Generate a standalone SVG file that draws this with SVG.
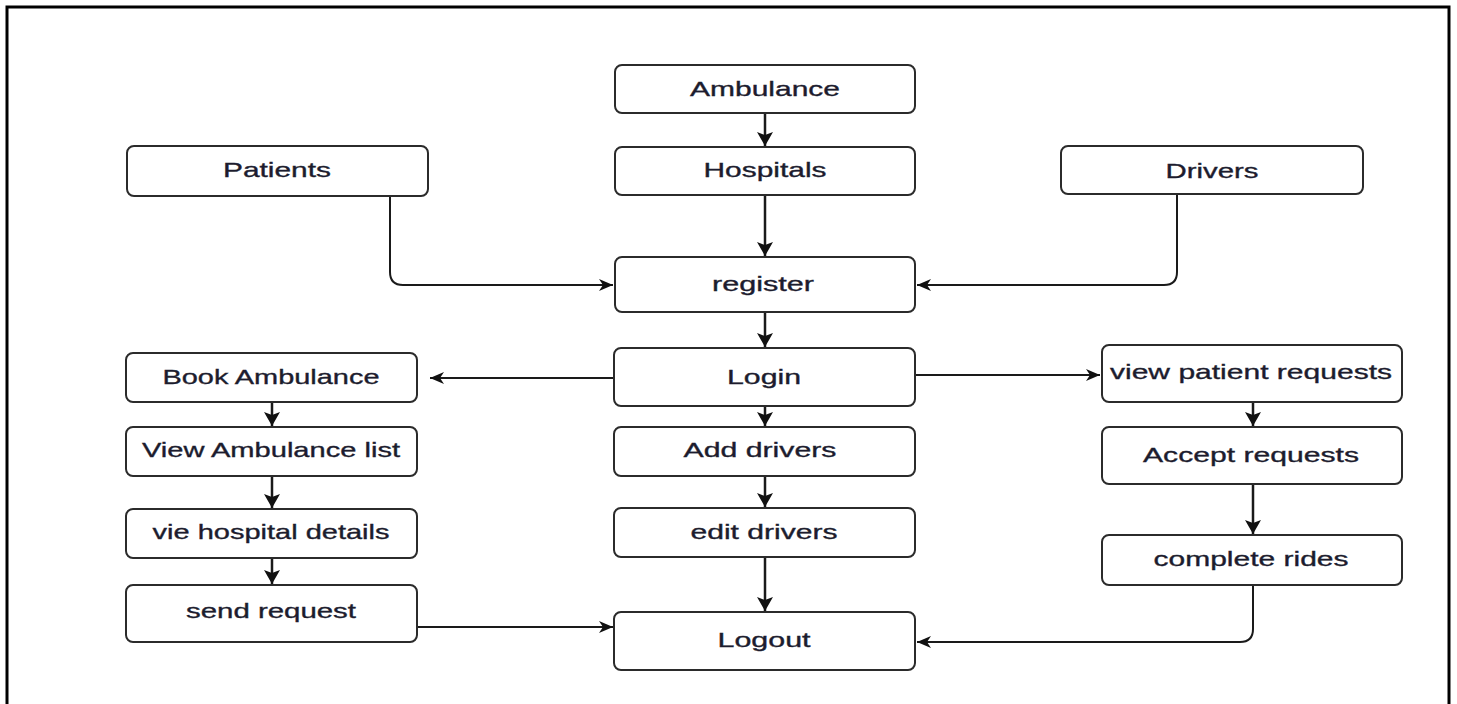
<svg xmlns="http://www.w3.org/2000/svg" width="1457" height="704" viewBox="0 0 1457 704">
<style>
.box{fill:#fff;stroke:#2b2b2b;stroke-width:2}
.t{font-family:"Liberation Sans",Arial,sans-serif;font-size:21px;fill:#1c1c2e;stroke:#1c1c2e;stroke-width:0.35;text-anchor:middle}
.c{fill:none;stroke:#1a1a1a;stroke-width:2}
.v{fill:none;stroke:#1a1a1a;stroke-width:2.5}
</style>
<defs>
<marker id="ah" viewBox="0 0 14 12" refX="14" refY="6" markerWidth="14" markerHeight="12" markerUnits="userSpaceOnUse" orient="auto">
<path d="M0,0 L14,6 L0,12 L4,6 Z" fill="#111"/>
</marker>
<marker id="av" viewBox="0 0 14 16" refX="14" refY="8" markerWidth="14" markerHeight="16" markerUnits="userSpaceOnUse" orient="auto">
<path d="M0,0 L14,8 L0,16 L3,8 Z" fill="#111"/>
</marker>
</defs>
<rect x="7" y="7" width="1442" height="705" fill="none" stroke="#000" stroke-width="3"/>
<g id="connectors">
<path class="v" d="M765,113 V146" marker-end="url(#av)"/>
<path class="v" d="M765,195 V256" marker-end="url(#av)"/>
<path class="c" d="M390,196 V272 Q390,285 403,285 H613" marker-end="url(#ah)"/>
<path class="c" d="M1177,194 V272 Q1177,285 1164,285 H917" marker-end="url(#ah)"/>
<path class="v" d="M765,312 V347" marker-end="url(#av)"/>
<path class="c" d="M614,378 H430" marker-end="url(#ah)"/>
<path class="c" d="M915,375 H1100" marker-end="url(#ah)"/>
<path class="v" d="M765,406 V426" marker-end="url(#av)"/>
<path class="v" d="M765,476 V507" marker-end="url(#av)"/>
<path class="v" d="M765,557 V611" marker-end="url(#av)"/>
<path class="v" d="M272,402 V426" marker-end="url(#av)"/>
<path class="v" d="M272,476 V508" marker-end="url(#av)"/>
<path class="v" d="M272,558 V584" marker-end="url(#av)"/>
<path class="c" d="M418,627 H613" marker-end="url(#ah)"/>
<path class="v" d="M1253,402 V426" marker-end="url(#av)"/>
<path class="v" d="M1253,484 V534" marker-end="url(#av)"/>
<path class="c" d="M1253,585 V629 Q1253,642 1240,642 H917" marker-end="url(#ah)"/>
</g>
<g id="n-ambulance"><rect class="box" x="615" y="65" width="300" height="48" rx="7"/><text class="t" x="765" y="96" textLength="150" lengthAdjust="spacingAndGlyphs">Ambulance</text></g>
<g id="n-hospitals"><rect class="box" x="615" y="147" width="300" height="48" rx="7"/><text class="t" x="765" y="177" textLength="123" lengthAdjust="spacingAndGlyphs">Hospitals</text></g>
<g id="n-patients"><rect class="box" x="127" y="146" width="301" height="50" rx="7"/><text class="t" x="277" y="177" textLength="108" lengthAdjust="spacingAndGlyphs">Patients</text></g>
<g id="n-drivers"><rect class="box" x="1061" y="146" width="302" height="48" rx="7"/><text class="t" x="1212" y="178" textLength="93" lengthAdjust="spacingAndGlyphs">Drivers</text></g>
<g id="n-register"><rect class="box" x="615" y="257" width="300" height="55" rx="7"/><text class="t" x="763" y="291" textLength="102" lengthAdjust="spacingAndGlyphs">register</text></g>
<g id="n-login"><rect class="box" x="614" y="348" width="301" height="58" rx="7"/><text class="t" x="764" y="384" textLength="74" lengthAdjust="spacingAndGlyphs">Login</text></g>
<g id="n-book"><rect class="box" x="126" y="353" width="291" height="49" rx="7"/><text class="t" x="271" y="384" textLength="217" lengthAdjust="spacingAndGlyphs">Book Ambulance</text></g>
<g id="n-viewlist"><rect class="box" x="126" y="427" width="291" height="49" rx="7"/><text class="t" x="271" y="457" textLength="258" lengthAdjust="spacingAndGlyphs">View Ambulance list</text></g>
<g id="n-hospdetails"><rect class="box" x="126" y="509" width="291" height="49" rx="7"/><text class="t" x="271" y="539" textLength="237" lengthAdjust="spacingAndGlyphs">vie hospital details</text></g>
<g id="n-send"><rect class="box" x="126" y="585" width="291" height="57" rx="7"/><text class="t" x="271" y="618" textLength="170" lengthAdjust="spacingAndGlyphs">send request</text></g>
<g id="n-adddrivers"><rect class="box" x="614" y="427" width="301" height="49" rx="7"/><text class="t" x="760" y="457" textLength="153" lengthAdjust="spacingAndGlyphs">Add drivers</text></g>
<g id="n-editdrivers"><rect class="box" x="614" y="508" width="301" height="49" rx="7"/><text class="t" x="764" y="539" textLength="147" lengthAdjust="spacingAndGlyphs">edit drivers</text></g>
<g id="n-logout"><rect class="box" x="614" y="612" width="301" height="58" rx="7"/><text class="t" x="764" y="647" textLength="93" lengthAdjust="spacingAndGlyphs">Logout</text></g>
<g id="n-viewpatient"><rect class="box" x="1102" y="345" width="300" height="57" rx="7"/><text class="t" x="1251" y="379" textLength="282" lengthAdjust="spacingAndGlyphs">view patient requests</text></g>
<g id="n-accept"><rect class="box" x="1102" y="427" width="300" height="57" rx="7"/><text class="t" x="1251" y="462" textLength="216" lengthAdjust="spacingAndGlyphs">Accept requests</text></g>
<g id="n-complete"><rect class="box" x="1102" y="535" width="300" height="50" rx="7"/><text class="t" x="1251" y="566" textLength="195" lengthAdjust="spacingAndGlyphs">complete rides</text></g>
</svg>
